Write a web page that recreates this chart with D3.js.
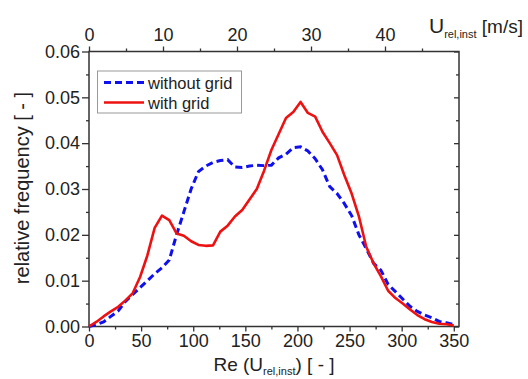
<!DOCTYPE html>
<html>
<head>
<meta charset="utf-8">
<script src="https://cdn.jsdelivr.net/npm/d3@7"></script>
<style>
  html, body { margin: 0; padding: 0; background: #fff; }
  svg { display: block; font-family: "Liberation Sans", Arial, Helvetica, sans-serif; }
</style>
</head>
<body>
<svg id="chart" width="528" height="379"></svg>
<script>
// Reynolds number bins (bottom axis)
const reValues = [0, 7, 14, 21, 28, 35, 42, 49, 56, 63, 70, 77, 84, 91, 98, 105, 112, 119, 126, 133,
  140, 147, 154, 161, 168, 175, 182, 189, 196, 203, 210, 217, 224, 231, 238, 245, 252, 259, 266, 273,
  280, 287, 294, 301, 308, 315, 322, 329, 336, 343, 350];

// relative frequency, measurement without grid
const withoutGrid = [0.0000, 0.0004, 0.0010, 0.0022, 0.0034, 0.0055, 0.0070, 0.0085, 0.0100, 0.0115,
  0.0128, 0.0145, 0.0200, 0.0250, 0.0300, 0.0338, 0.0350, 0.0358, 0.0362, 0.0364,
  0.0348, 0.0347, 0.0350, 0.0352, 0.0351, 0.0352, 0.0368, 0.0376, 0.0390, 0.0392,
  0.0383, 0.0366, 0.0342, 0.0305, 0.0290, 0.0268, 0.0242, 0.0200, 0.0170, 0.0138,
  0.0123, 0.0092, 0.0076, 0.0060, 0.0044, 0.0033, 0.0025, 0.0019, 0.0011, 0.0008, 0.0004];

// relative frequency, measurement with grid
const withGrid = [0.0000, 0.0010, 0.0022, 0.0033, 0.0043, 0.0057, 0.0073, 0.0108, 0.0155, 0.0215,
  0.0242, 0.0232, 0.0203, 0.0198, 0.0186, 0.0178, 0.0176, 0.0177, 0.0207, 0.0220,
  0.0240, 0.0254, 0.0277, 0.0300, 0.0340, 0.0385, 0.0420, 0.0455, 0.0468, 0.0490,
  0.0466, 0.0458, 0.0425, 0.0400, 0.0374, 0.0330, 0.0290, 0.0240, 0.0174, 0.0138,
  0.0110, 0.0078, 0.0062, 0.0050, 0.0037, 0.0025, 0.0016, 0.0010, 0.0006, 0.0005, 0.0002];

const seriesNames = ["without grid", "with grid"];
const seriesColors = ["#1010ee", "#ee1111"];

const yTicks = [0, 0.01, 0.02, 0.03, 0.04, 0.05, 0.06];
const yMinorTicks = [0.005, 0.015, 0.025, 0.035, 0.045, 0.055];
const reTicks = [0, 50, 100, 150, 200, 250, 300, 350];
const reMinorTicks = [25, 75, 125, 175, 225, 275, 325];
const uTicks = [0, 10, 20, 30, 40];
const uMinorTicks = [5, 15, 25, 35, 45];

const svg = d3.select("#chart");
const plot = { left: 89, right: 459, top: 51.5, bottom: 326.5 };

const x = d3.scaleLinear().domain([0, 355]).range([plot.left, plot.right]);
const xTop = d3.scaleLinear().domain([0, 50]).range([plot.left, plot.right]);
const y = d3.scaleLinear().domain([0, 0.06]).range([plot.bottom, plot.top]);

const axisColor = "#333";
const tickFont = "18px";

function styleAxis(g) {
  g.select(".domain").remove();
  g.selectAll("line").attr("stroke", axisColor).attr("stroke-width", 1.3);
  g.selectAll("text").attr("fill", "#222").style("font-size", tickFont);
}

// left axis
svg.append("g").attr("transform", `translate(${plot.left},0)`)
  .call(d3.axisLeft(y).tickValues(yTicks).tickFormat(d3.format(".2f")).tickSize(7).tickPadding(2))
  .call(styleAxis);
svg.append("g").attr("transform", `translate(${plot.left},0)`)
  .call(d3.axisLeft(y).tickValues(yMinorTicks).tickFormat("").tickSize(3))
  .call(styleAxis);

// right axis (inward ticks, no labels)
svg.append("g").attr("transform", `translate(${plot.right},0)`)
  .call(d3.axisLeft(y).tickValues(yTicks).tickFormat("").tickSize(5))
  .call(styleAxis);
svg.append("g").attr("transform", `translate(${plot.right},0)`)
  .call(d3.axisLeft(y).tickValues(yMinorTicks).tickFormat("").tickSize(3))
  .call(styleAxis);

// bottom axis
svg.append("g").attr("transform", `translate(0,${plot.bottom})`)
  .call(d3.axisBottom(x).tickValues(reTicks).tickSize(5).tickPadding(3))
  .call(styleAxis);
svg.append("g").attr("transform", `translate(0,${plot.bottom})`)
  .call(d3.axisBottom(x).tickValues(reMinorTicks).tickFormat("").tickSize(3))
  .call(styleAxis);

// top axis (velocity)
svg.append("g").attr("transform", `translate(0,${plot.top})`)
  .call(d3.axisTop(xTop).tickValues(uTicks).tickSize(5).tickPadding(6))
  .call(styleAxis);
svg.append("g").attr("transform", `translate(0,${plot.top})`)
  .call(d3.axisTop(xTop).tickValues(uMinorTicks).tickFormat("").tickSize(3))
  .call(styleAxis);

// frame
svg.append("rect")
  .attr("x", plot.left).attr("y", plot.top)
  .attr("width", plot.right - plot.left).attr("height", plot.bottom - plot.top)
  .attr("fill", "none").attr("stroke", axisColor).attr("stroke-width", 1.5);

// curves
const line = d3.line()
  .x((d, i) => x(reValues[i]))
  .y(d => y(d));

svg.append("path").datum(withoutGrid)
  .attr("d", line)
  .attr("fill", "none")
  .attr("stroke", seriesColors[0])
  .attr("stroke-width", 3)
  .attr("stroke-dasharray", "7,4");

svg.append("path").datum(withGrid)
  .attr("d", line)
  .attr("fill", "none")
  .attr("stroke", seriesColors[1])
  .attr("stroke-width", 2.6)
  .attr("stroke-linejoin", "round");

// legend
const legend = svg.append("g");
legend.append("rect")
  .attr("x", 97.5).attr("y", 71).attr("width", 144).attr("height", 42)
  .attr("fill", "#fff").attr("stroke", "#999").attr("stroke-width", 1);
seriesNames.forEach((name, i) => {
  const ly = 82.5 + i * 20;
  legend.append("line")
    .attr("x1", 104).attr("x2", 144).attr("y1", ly).attr("y2", ly)
    .attr("stroke", seriesColors[i])
    .attr("stroke-width", i === 0 ? 3 : 2.6)
    .attr("stroke-dasharray", i === 0 ? "7,4" : null);
  legend.append("text")
    .attr("x", 148).attr("y", ly + 6)
    .attr("fill", "#222")
    .style("font-size", "16.5px")
    .text(name);
});

// axis titles
svg.append("text")
  .attr("transform", "translate(29,188) rotate(-90)")
  .attr("text-anchor", "middle")
  .attr("fill", "#222")
  .style("font-size", "20px")
  .text("relative frequency [ - ]");

const xt = svg.append("text")
  .attr("x", 274).attr("y", 371)
  .attr("text-anchor", "middle")
  .attr("fill", "#222")
  .style("font-size", "19px");
xt.append("tspan").text("Re (U");
xt.append("tspan").attr("dy", 4).style("font-size", "11px").text("rel,inst");
xt.append("tspan").attr("dy", -4).text(") [ - ]");

const ut = svg.append("text")
  .attr("x", 523).attr("y", 33)
  .attr("text-anchor", "end")
  .attr("fill", "#222")
  .style("font-size", "19px");
ut.append("tspan").style("font-size", "21px").text("U");
ut.append("tspan").attr("dy", 5).style("font-size", "11px").text("rel,inst");
ut.append("tspan").attr("dy", -5).text(" [m/s]");
</script>
</body>
</html>
